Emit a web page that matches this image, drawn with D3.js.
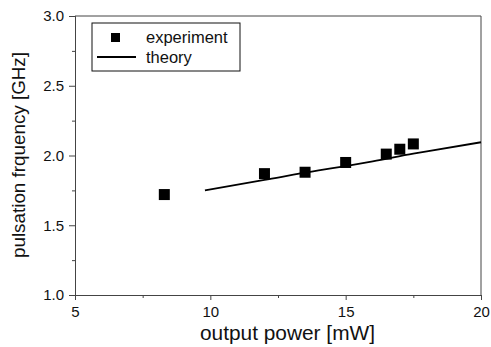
<!DOCTYPE html>
<html>
<head>
<meta charset="utf-8">
<script src="https://cdn.jsdelivr.net/npm/d3@7"></script>
<style>
  body { margin: 0; background: #fff; }
  text { font-family: "Liberation Sans", Arial, sans-serif; fill: #111; }
</style>
</head>
<body>
<script>
// chart size
var width = 491
var height = 347

// experiment points
const expPower = [8.3, 12.0, 13.5, 15.0, 16.5, 17.0, 17.5]
const expFreq = [1.72, 1.87, 1.88, 1.95, 2.01, 2.045, 2.083]

// theory curve
const theoryPower = [9.8, 12, 14, 15, 16, 17.5, 18, 20]
const theoryFreq = [1.75, 1.825, 1.893, 1.924, 1.958, 2.013, 2.03, 2.095]

const xTicks = [5, 10, 15, 20]
const yTicks = [1.0, 1.5, 2.0, 2.5, 3.0]
const xMinor = [7.5, 12.5, 17.5]
const yMinor = [1.25, 1.75, 2.25, 2.75]

const margin = { top: 16, right: 10, bottom: 52, left: 75 }

const svg = d3.select('body').append('svg')
    .attr('width', width)
    .attr('height', height)

const xScale = d3.scaleLinear().domain([5, 20]).range([margin.left, width - margin.right])
const yScale = d3.scaleLinear().domain([1, 3]).range([height - margin.bottom, margin.top])

const axisColor = '#444'

//frame (top and right lines)
svg.append('line')
    .attr('x1', xScale(5)).attr('x2', xScale(20))
    .attr('y1', yScale(3)).attr('y2', yScale(3))
    .attr('stroke', axisColor)
svg.append('line')
    .attr('x1', xScale(20)).attr('x2', xScale(20))
    .attr('y1', yScale(3)).attr('y2', yScale(1))
    .attr('stroke', axisColor)

//x axis
svg.append('g')
    .attr('transform', 'translate(0,' + yScale(1) + ')')
    .call(d3.axisBottom(xScale).tickValues(xTicks).tickFormat(d3.format('d')).tickSizeOuter(0).tickSize(5).tickPadding(6))
svg.append('g')
    .attr('transform', 'translate(0,' + yScale(1) + ')')
    .call(d3.axisBottom(xScale).tickValues(xMinor).tickFormat('').tickSizeOuter(0).tickSize(3))

//y axis
svg.append('g')
    .attr('transform', 'translate(' + xScale(5) + ',0)')
    .call(d3.axisLeft(yScale).tickValues(yTicks).tickFormat(d3.format('.1f')).tickSizeOuter(0).tickSize(6).tickPadding(5))
svg.append('g')
    .attr('transform', 'translate(' + xScale(5) + ',0)')
    .call(d3.axisLeft(yScale).tickValues(yMinor).tickFormat('').tickSizeOuter(0).tickSize(3))

svg.selectAll('.domain, .tick line').attr('stroke', axisColor)
svg.selectAll('.tick text')
    .attr('font-size', '15px')
    .attr('font-family', '"Liberation Sans", Arial, sans-serif')
    .attr('fill', '#111')

//axis titles (stretched to the original's width)
svg.append('text')
    .attr('x', 200)
    .attr('y', 339.5)
    .attr('font-size', '20px')
    .attr('textLength', 175)
    .attr('lengthAdjust', 'spacingAndGlyphs')
    .text('output power [mW]')

svg.append('text')
    .attr('transform', 'translate(25,258) rotate(-90)')
    .attr('font-size', '19px')
    .attr('textLength', 206)
    .attr('lengthAdjust', 'spacingAndGlyphs')
    .text('pulsation frquency [GHz]')

//theory line
const line = d3.line()
    .x((d, i) => xScale(theoryPower[i]))
    .y(d => yScale(d))
    .curve(d3.curveMonotoneX)
svg.append('path')
    .attr('d', line(theoryFreq))
    .attr('fill', 'none')
    .attr('stroke', '#000')
    .attr('stroke-width', 1.8)

//experiment squares
const sq = 11
svg.append('g').selectAll('rect')
    .data(expPower)
    .enter()
    .append('rect')
    .attr('x', d => xScale(d) - sq / 2)
    .attr('y', (d, i) => yScale(expFreq[i]) - sq / 2)
    .attr('width', sq)
    .attr('height', sq)
    .attr('fill', '#000')

//legend
const legend = svg.append('g')
legend.append('rect')
    .attr('x', 92).attr('y', 23)
    .attr('width', 148).attr('height', 48)
    .attr('fill', '#fff')
    .attr('stroke', '#111')
legend.append('rect')
    .attr('x', 111).attr('y', 33)
    .attr('width', 9).attr('height', 9)
    .attr('fill', '#000')
legend.append('text')
    .attr('x', 146).attr('y', 43)
    .attr('font-size', '16.5px')
    .text('experiment')
legend.append('line')
    .attr('x1', 97).attr('x2', 136)
    .attr('y1', 57).attr('y2', 57)
    .attr('stroke', '#000')
    .attr('stroke-width', 1.8)
legend.append('text')
    .attr('x', 146).attr('y', 63)
    .attr('font-size', '16.5px')
    .text('theory')
</script>
</body>
</html>
